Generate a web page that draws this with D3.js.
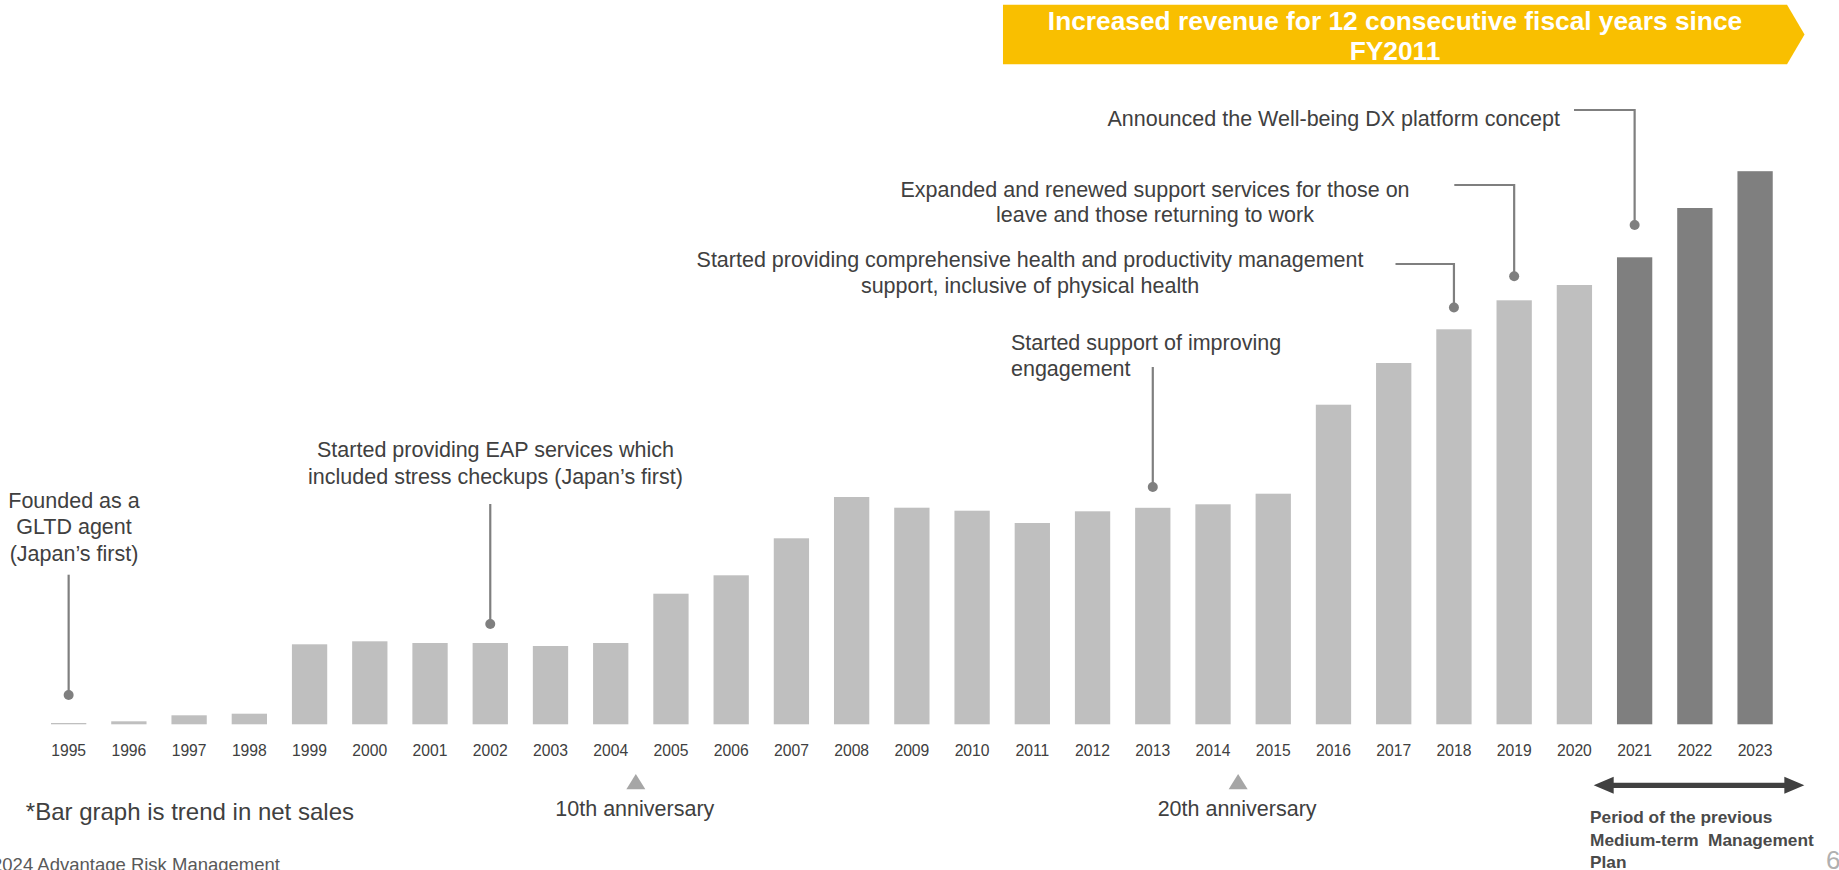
<!DOCTYPE html>
<html>
<head>
<meta charset="utf-8">
<script src="https://cdn.jsdelivr.net/npm/d3@7"></script>
<style>
  html, body { margin: 0; padding: 0; background: #ffffff; }
  svg { display: block; }
  text { font-family: "Liberation Sans", Arial, sans-serif; }
</style>
</head>
<body>
<svg id="chart" width="1839" height="870"></svg>
<script>
// Fiscal years shown on the timeline
const years = ["1995","1996","1997","1998","1999","2000","2001","2002","2003","2004",
               "2005","2006","2007","2008","2009","2010","2011","2012","2013","2014",
               "2015","2016","2017","2018","2019","2020","2021","2022","2023"];

// Net sales trend (relative index, no axis shown)
const netSales = [1.3, 3, 9, 10.6, 80, 83, 81.3, 81.3, 78.3, 81.3,
                  130.6, 149, 186, 227.3, 216.6, 213.6, 201.3, 213, 216.5, 220,
                  230.6, 319.6, 361.3, 395, 424, 439.3, 467, 516.3, 553.1];

// Years of the previous Medium-term Management Plan (drawn darker)
const planYears = ["2021", "2022", "2023"];

// Milestones attached to bars
const milestoneYears = ["1995", "2002", "2013", "2018", "2019", "2021"];
const milestoneTexts = [
  ["Founded as a", "GLTD agent", "(Japan\u2019s first)"],
  ["Started providing EAP services which", "included stress checkups (Japan\u2019s first)"],
  ["Started support of improving", "engagement"],
  ["Started providing comprehensive health and productivity management", "support, inclusive of physical health"],
  ["Expanded and renewed support services for those on", "leave and those returning to work"],
  ["Announced the Well-being DX platform concept"]
];

// Anniversary markers (placed between two years)
const anniversaryPairs = [["2004", "2005"], ["2014", "2015"]];
const anniversaryLabels = ["10th anniversary", "20th anniversary"];

const bannerLines = ["Increased revenue for 12 consecutive fiscal years since", "FY2011"];
const bannerStartYear = "2011";
const periodLines = ["Period of the previous", "Medium-term\u00a0 Management", "Plan"];
const footnote = "*Bar graph is trend in net sales";
const copyright = "\u00a92024 Advantage Risk Management";
const pageNumber = "6";

// ---- layout ----
const svg = d3.select("#chart");
const baseY = 724.3;
const step = 60.23, pad = 0.414, left = 51;

const x = d3.scaleBand()
  .domain(years)
  .range([left, left + step * (years.length - pad)])
  .paddingInner(pad)
  .paddingOuter(0);
const bw = x.bandwidth();
const cx = yr => x(yr) + bw / 2;

const y = d3.scaleLinear().domain([0, 560]).range([baseY, baseY - 560]);

const TEXT = "#404040";
const LINE = "#7f7f7f";

svg.append("rect").attr("width", 1839).attr("height", 870).attr("fill", "#ffffff");

// ---- bars ----
const data = years.map((yr, i) => ({ year: yr, value: netSales[i] }));
svg.append("g").selectAll("rect")
  .data(data)
  .join("rect")
  .attr("x", d => x(d.year))
  .attr("y", d => y(d.value))
  .attr("width", bw)
  .attr("height", d => y(0) - y(d.value))
  .attr("fill", d => planYears.includes(d.year) ? "#7f7f7f" : "#bfbfbf");

// ---- year labels ----
const axis = svg.append("g")
  .attr("transform", `translate(0,${baseY})`)
  .call(d3.axisBottom(x).tickSize(0).tickPadding(21));
axis.select(".domain").remove();
axis.selectAll("text")
  .attr("font-family", "'Liberation Sans', Arial, sans-serif")
  .attr("font-size", 15.7)
  .attr("fill", TEXT);

// ---- milestone callouts ----
// Placement of each callout: text anchor/position and the connector path
const calloutLayout = {
  "1995": { anchor: "middle", tx: 74,    ty: [500.8, 527.4, 553.8], path: yr => [[cx(yr), 574.7], [cx(yr), 695]] },
  "2002": { anchor: "middle", tx: 495.5, ty: [450.3, 477.3],        path: yr => [[cx(yr), 504], [cx(yr), 624]] },
  "2013": { anchor: "start",  tx: 1011,  ty: [343.3, 369],          path: yr => [[cx(yr), 367], [cx(yr), 487]] },
  "2018": { anchor: "middle", tx: 1030,  ty: [260.4, 286.2],        path: yr => [[1395.5, 264], [cx(yr), 264], [cx(yr), 307.5]] },
  "2019": { anchor: "middle", tx: 1155,  ty: [189.5, 215],          path: yr => [[1454.3, 185], [cx(yr), 185], [cx(yr), 276.3]] },
  "2021": { anchor: "end",    tx: 1560,  ty: [118.5],               path: yr => [[1574, 110], [cx(yr), 110], [cx(yr), 225]] }
};

const callouts = svg.append("g");
milestoneYears.forEach((yr, i) => {
  const L = calloutLayout[yr];
  const pts = L.path(yr);
  callouts.append("path")
    .attr("d", d3.line()(pts))
    .attr("fill", "none")
    .attr("stroke", LINE)
    .attr("stroke-width", 2.2);
  const end = pts[pts.length - 1];
  callouts.append("circle")
    .attr("cx", end[0]).attr("cy", end[1]).attr("r", 5)
    .attr("fill", LINE);
  milestoneTexts[i].forEach((line, j) => {
    callouts.append("text")
      .attr("x", L.tx).attr("y", L.ty[j])
      .attr("text-anchor", L.anchor)
      .attr("dominant-baseline", "central")
      .attr("font-size", 21.5)
      .attr("fill", TEXT)
      .text(line);
  });
});

// ---- anniversary markers ----
const annOffsets = [-5, -5];
anniversaryPairs.forEach((pair, i) => {
  const mx = (cx(pair[0]) + cx(pair[1])) / 2 + annOffsets[i];
  svg.append("path")
    .attr("d", `M${mx},774 L${mx + 9.5},789.3 L${mx - 9.5},789.3 Z`)
    .attr("fill", "#a6a6a6");
  svg.append("text")
    .attr("x", mx - 1).attr("y", 809)
    .attr("text-anchor", "middle")
    .attr("dominant-baseline", "central")
    .attr("font-size", 21.5)
    .attr("fill", TEXT)
    .text(anniversaryLabels[i]);
});

// ---- banner ----
const bx0 = x(bannerStartYear) - 11.7;
const bx1 = x("2023") + bw + 14.3;
const bTip = bx1 + 17.5;
svg.append("path")
  .attr("d", `M${bx0},4.7 L${bx1},4.7 L${bTip},34.5 L${bx1},64.3 L${bx0},64.3 Z`)
  .attr("fill", "#f9bf00");
bannerLines.forEach((line, j) => {
  svg.append("text")
    .attr("x", (bx0 + bx1) / 2).attr("y", [21, 51][j])
    .attr("text-anchor", "middle")
    .attr("dominant-baseline", "central")
    .attr("font-size", 26.3)
    .attr("font-weight", "bold")
    .attr("fill", "#ffffff")
    .text(line);
});

// ---- previous plan period arrow ----
const ax0 = x(planYears[0]) - 23.3;
const ax1 = x(planYears[planYears.length - 1]) + bw + 31.6;
const ay = 785.3, head = 20, hh = 8.5, sh = 2.6;
svg.append("path")
  .attr("d", `M${ax0},${ay} L${ax0 + head},${ay - hh} L${ax0 + head},${ay - sh} L${ax1 - head},${ay - sh}
              L${ax1 - head},${ay - hh} L${ax1},${ay} L${ax1 - head},${ay + hh} L${ax1 - head},${ay + sh}
              L${ax0 + head},${ay + sh} L${ax0 + head},${ay + hh} Z`)
  .attr("fill", "#404040");
periodLines.forEach((line, j) => {
  svg.append("text")
    .attr("x", 1590).attr("y", [817.3, 839.8, 861.7][j])
    .attr("dominant-baseline", "central")
    .attr("font-size", 17.3)
    .attr("font-weight", "bold")
    .attr("fill", "#4a4a4a")
    .text(line);
});

// ---- footnote, copyright, page number ----
svg.append("text")
  .attr("x", 25.8).attr("y", 811.6)
  .attr("dominant-baseline", "central")
  .attr("font-size", 24)
  .attr("fill", TEXT)
  .text(footnote);

svg.append("text")
  .attr("x", 280).attr("y", 871)
  .attr("text-anchor", "end")
  .attr("font-family", "'Noto Sans CJK JP', sans-serif")
  .attr("font-size", 18.5)
  .attr("fill", "#595959")
  .text(copyright);

svg.append("text")
  .attr("x", 1826).attr("y", 869)
  .attr("font-family", "'Liberation Sans Narrow', 'Liberation Sans', sans-serif")
  .attr("font-size", 26)
  .attr("fill", "#b0b0b0")
  .text(pageNumber);
</script>
</body>
</html>
